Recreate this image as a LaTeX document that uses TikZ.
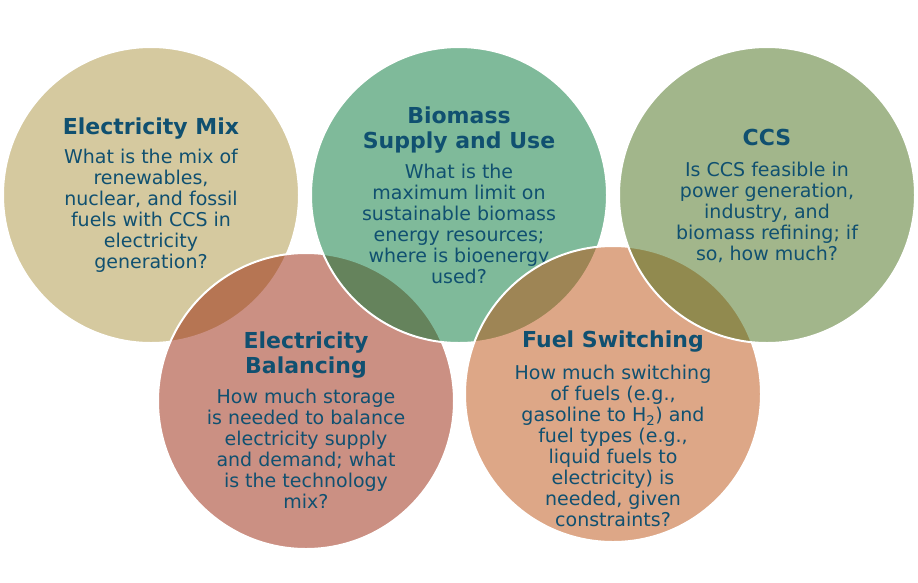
\documentclass[tikz,border=0pt]{standalone}
\usepackage{fontspec}
\setmainfont{DejaVu Sans}
\usepackage{xcolor}

\definecolor{mixfill}{RGB}{173,149,65}
\definecolor{balfill}{RGB}{153,35,9}
\definecolor{biofill}{RGB}{1,119,55}
\definecolor{fuelfill}{RGB}{189,81,17}
\definecolor{ccsfill}{RGB}{71,111,25}
\definecolor{qtext}{RGB}{16,80,112}

\begin{document}
\begin{tikzpicture}[x=1pt, y=-1pt,
        bubble/.style={circle, draw=white, line width=2pt, fill opacity=0.5, minimum size=296pt, inner sep=0pt},
        heading/.style={text=qtext, font=\fontsize{22}{25}\selectfont\bfseries, align=center, inner sep=0pt},
        question/.style={text=qtext, font=\fontsize{19}{21}\selectfont, align=center, inner sep=0pt}]
        \useasboundingbox (0,0) rectangle (918,582);
        \fill[white] (0,0) rectangle (918,582);

        % Electricity Mix
        \node (Mix) [bubble, fill=mixfill] at (151,195) {};
        \node (MixTitle) [heading] at ([yshift=66pt]Mix.center) {Electricity Mix};
        \node (MixText) [question] at ([yshift=-16pt]Mix.center) {What is the mix of\\renewables,\\nuclear, and fossil\\fuels with CCS in\\electricity\\generation?};

        % Electricity Balancing
        \node (Balancing) [bubble, fill=balfill] at (306,401) {};
        \node (BalancingTitle) [heading] at ([yshift=45.5pt]Balancing.center) {Electricity\\Balancing};
        \node (BalancingText) [question] at ([yshift=-48pt]Balancing.center) {How much storage\\is needed to balance\\electricity supply\\and demand; what\\is the technology\\mix?};

        % Biomass Supply and Use
        \node (Biomass) [bubble, fill=biofill] at (459,195) {};
        \node (BiomassTitle) [heading] at ([yshift=64.5pt]Biomass.center) {Biomass\\Supply and Use};
        \node (BiomassText) [question] at ([yshift=-29pt]Biomass.center) {What is the\\maximum limit on\\sustainable biomass\\energy resources;\\where is bioenergy\\used?};

        % Fuel Switching
        \node (Fuel) [bubble, fill=fuelfill] at (613,394) {};
        \node (FuelTitle) [heading] at ([yshift=52pt]Fuel.center) {Fuel Switching};
        \node (FuelText) [question] at ([yshift=-52pt]Fuel.center) {How much switching\\of fuels (e.g.,\\gasoline to H\textsubscript{2}) and\\fuel types (e.g.,\\liquid fuels to\\electricity) is\\needed, given\\constraints?};

        % CCS
        \node (CCS) [bubble, fill=ccsfill] at (767,195) {};
        \node (CCSTitle) [heading] at ([yshift=58pt]CCS.center) {CCS};
        \node (CCSText) [question] at ([yshift=-17pt]CCS.center) {Is CCS feasible in\\power generation,\\industry, and\\biomass refining; if\\so, how much?};
    \end{tikzpicture}
\end{document}
